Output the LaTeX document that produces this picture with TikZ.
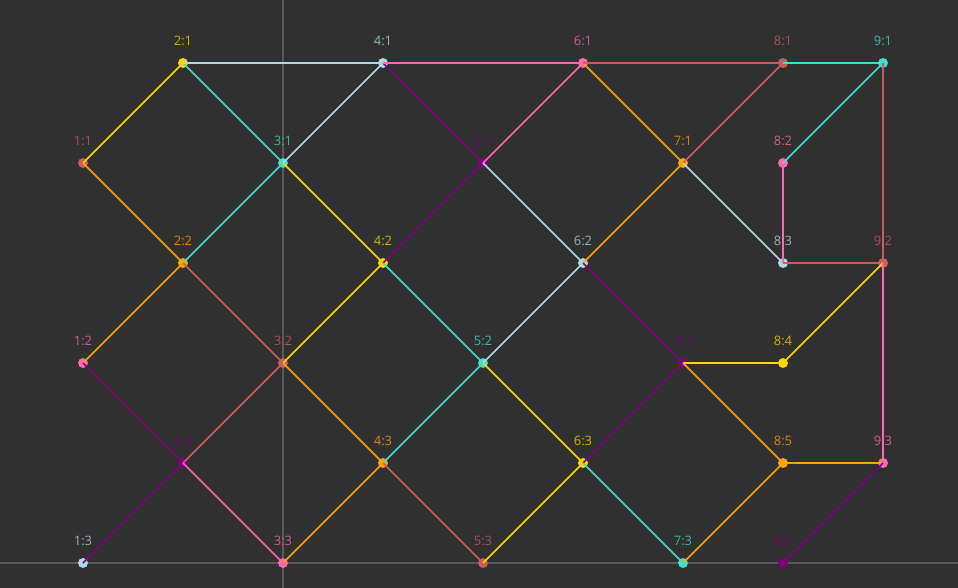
\documentclass[tikz,border=0pt]{standalone}
\usepackage{fontspec}
\setmainfont{Open Sans}
\definecolor{bgc}{HTML}{303030}
\definecolor{axc}{HTML}{5A5A5A}
\definecolor{cIR}{HTML}{CD5C5C}
\definecolor{cHP}{HTML}{FF69B4}
\definecolor{cLB}{HTML}{ADD8E6}
\definecolor{cGD}{HTML}{FFD700}
\definecolor{cOR}{HTML}{FFA500}
\definecolor{cPU}{HTML}{800080}
\definecolor{cTQ}{HTML}{40E0D0}
\newcommand{\mkpt}[5]{\node[dot=#4,label={[lbl=#4]90:#5}] (#1) at (#2,#3) {};}
\begin{document}
\begin{tikzpicture}[x=1pt,y=-1pt,
  dot/.style={circle,inner sep=0pt,minimum size=10pt,fill=#1},
  lbl/.style={text=#1!78!bgc,anchor=center,label distance=17pt,inner sep=0pt,font=\fontsize{13}{15}\selectfont},
  edge/.style={draw=#1,line width=1.7pt},
  axis/.style={draw=axc,line width=1.8pt}]
\fill[bgc] (0,0) rectangle (958,588);
\useasboundingbox (0,0) rectangle (958,588);
\coordinate (axT) at (283,0);
\coordinate (axB) at (283,588);
\coordinate (axL) at (0,563);
\coordinate (axR) at (958,563);
\draw[axis] (axT) -- (axB);
\draw[axis] (axL) -- (axR);
\mkpt{n11}{83}{163}{cIR}{1:1}
\mkpt{n12}{83}{363}{cHP}{1:2}
\mkpt{n13}{83}{563}{cLB}{1:3}
\mkpt{n21}{183}{63}{cGD}{2:1}
\mkpt{n22}{183}{263}{cOR}{2:2}
\mkpt{n23}{183}{463}{cPU}{2:3}
\mkpt{n31}{283}{163}{cTQ}{3:1}
\mkpt{n32}{283}{363}{cIR}{3:2}
\mkpt{n33}{283}{563}{cHP}{3:3}
\mkpt{n41}{383}{63}{cLB}{4:1}
\mkpt{n42}{383}{263}{cGD}{4:2}
\mkpt{n43}{383}{463}{cOR}{4:3}
\mkpt{n51}{483}{163}{cPU}{5:1}
\mkpt{n52}{483}{363}{cTQ}{5:2}
\mkpt{n53}{483}{563}{cIR}{5:3}
\mkpt{n61}{583}{63}{cHP}{6:1}
\mkpt{n62}{583}{263}{cLB}{6:2}
\mkpt{n63}{583}{463}{cGD}{6:3}
\mkpt{n71}{683}{163}{cOR}{7:1}
\mkpt{n72}{683}{363}{cPU}{7:2}
\mkpt{n73}{683}{563}{cTQ}{7:3}
\mkpt{n81}{783}{63}{cIR}{8:1}
\mkpt{n82}{783}{163}{cHP}{8:2}
\mkpt{n83}{783}{263}{cLB}{8:3}
\mkpt{n84}{783}{363}{cGD}{8:4}
\mkpt{n85}{783}{463}{cOR}{8:5}
\mkpt{n86}{783}{563}{cPU}{8:6}
\mkpt{n91}{883}{63}{cTQ}{9:1}
\mkpt{n92}{883}{263}{cIR}{9:2}
\mkpt{n93}{883}{463}{cHP}{9:3}
\foreach \a/\b/\c in {n11/n21/cGD, n11/n22/cOR, n21/n31/cTQ, n21/n41/cLB,
  n12/n22/cOR, n12/n23/cPU, n13/n23/cPU, n22/n31/cTQ, n22/n32/cIR,
  n23/n32/cIR, n23/n33/cHP, n31/n41/cLB, n31/n42/cGD, n32/n42/cGD,
  n32/n43/cOR, n33/n43/cOR, n41/n51/cPU, n41/n61/cHP, n42/n51/cPU,
  n42/n52/cTQ, n43/n52/cTQ, n43/n53/cIR, n51/n61/cHP, n51/n62/cLB,
  n52/n62/cLB, n52/n63/cGD, n53/n63/cGD, n61/n71/cOR, n61/n81/cIR,
  n62/n71/cOR, n62/n72/cPU, n63/n72/cPU, n63/n73/cTQ, n71/n81/cIR,
  n71/n83/cLB, n72/n84/cGD, n72/n85/cOR, n73/n85/cOR, n81/n91/cTQ,
  n82/n91/cTQ, n82/n83/cHP, n83/n92/cIR, n91/n92/cIR, n84/n92/cGD,
  n92/n93/cHP, n85/n93/cOR, n86/n93/cPU}
  \draw[edge=\c] (\a.center) -- (\b.center);
\end{tikzpicture}
\end{document}
